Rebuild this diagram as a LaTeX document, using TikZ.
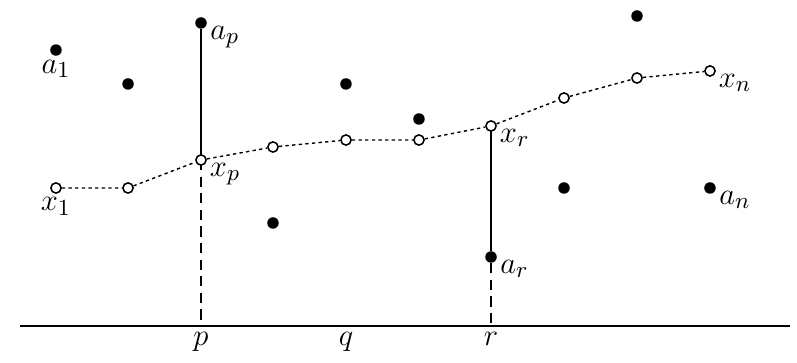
\documentclass[tikz,border=0pt]{standalone}
\usepackage{tikz}
\usetikzlibrary{arrows,calc}
\tikzset{
    fdot/.style={circle,fill=black,inner sep=0pt,minimum size=4.5pt},
    odot/.style={circle,draw=black,fill=white,line width=0.6pt,inner sep=0pt,minimum size=4pt},
    txt/.style={font=\fontsize{13}{15}\selectfont},
    every label/.style={txt},
    lab/.style={anchor=north west,inner sep=1pt},
    chain/.style={line width=0.55pt,dash pattern=on 1.3pt off 1.3pt},
    drop/.style={line width=0.75pt,dash pattern=on 4pt off 2.5pt}
}

\begin{document}
\begin{tikzpicture}
    \useasboundingbox (0,0) rectangle (10.963,4.993);
    %%axis
    \coordinate (o1) at (0.275,0.509);
    \coordinate (o2) at (10.867,0.509);
    \draw[line width=0.55pt] (o1) -- (o2);
    \node[txt,below,inner sep=2.2pt] (p) at (2.765,0.509) {$p$};
    \node[txt,below,inner sep=2.2pt] (q) at (4.759,0.509) {$q$};
    \node[txt,below,inner sep=2.2pt] (r) at (6.754,0.509) {$r$};
    %%data points
    \node[fdot,label={[inner sep=1.2pt]below:$a_1$}] (a1) at (0.770,4.305) {};
    \node[fdot] (a2) at (1.761,3.838) {};
    \node[fdot,label={[lab]0:$a_p$}] (ap) at (2.765,4.677) {};
    \node[fdot] (a4) at (3.755,1.926) {};
    \node[fdot] (a5) at (4.759,3.838) {};
    \node[fdot] (a6) at (5.763,3.356) {};
    \node[fdot,label={[lab]0:$a_r$}] (ar) at (6.754,1.458) {};
    \node[fdot] (a8) at (7.758,2.407) {};
    \node[fdot] (a9) at (8.762,4.773) {};
    \node[fdot,label={[lab]0:$a_n$}] (an) at (9.766,2.407) {};
    %%projections
    \draw[line width=0.75pt] (ap) -- (2.765,2.792);
    \draw[line width=0.75pt] (ar) -- (6.754,3.260);
    \draw[drop] (2.765,2.792) -- (p.north);
    \draw[drop] (ar) -- (r.north);
    %%fitted chain
    \node[odot,label={[inner sep=1.2pt]below:$x_1$}] (x1) at (0.770,2.407) {};
    \node[odot] (x2) at (1.761,2.407) {};
    \node[odot,label={[lab]0:$x_p$}] (xp) at (2.765,2.792) {};
    \node[odot] (x4) at (3.755,2.971) {};
    \node[odot] (x5) at (4.759,3.067) {};
    \node[odot] (x6) at (5.763,3.067) {};
    \node[odot,label={[lab]0:$x_r$}] (xr) at (6.754,3.260) {};
    \node[odot] (x8) at (7.758,3.645) {};
    \node[odot] (x9) at (8.762,3.920) {};
    \node[odot,label={[lab]0:$x_n$}] (xn) at (9.766,4.017) {};
    \draw[chain] (x1) -- (x2) -- (xp) -- (x4) -- (x5) -- (x6) -- (xr) -- (x8) -- (x9) -- (xn);
\end{tikzpicture}
\end{document}
